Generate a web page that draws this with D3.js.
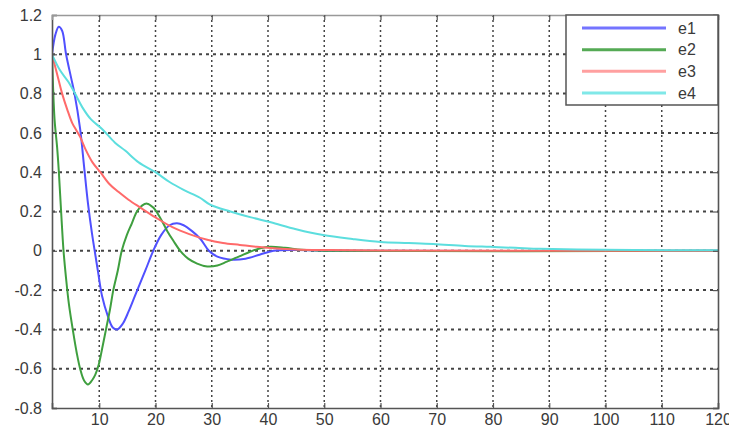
<!doctype html>
<head>
  <script src="https://d3js.org/d3.v7.min.js" charset="utf-8"></script>
</head>

<style type="text/css">
  body { margin: 0; background: #fff; }
  .tick text, .leg_label {
    font-family: 'Liberation Sans', Arial, sans-serif;
    font-size: 16px;
    fill: #3a3a3a;
  }
</style>

<body>
<svg width="729" height="431"></svg>
<script>
// data: [x, value]
var e1 = [[1.6,1.0],[2.2,1.10],[2.8,1.14],[3.4,1.12],[4.1,1.0],[5.0,0.88],[5.6,0.80],[6.6,0.62],
  [7.3,0.43],[8.0,0.24],[8.7,0.09],[9.3,-0.02],[9.8,-0.11],[10.5,-0.23],[11.5,-0.33],[12.4,-0.39],
  [13.2,-0.40],[14.2,-0.37],[15.2,-0.31],[16.2,-0.24],[17.2,-0.17],[18.2,-0.10],[19.6,0.0],
  [21,0.08],[22.5,0.13],[23.8,0.14],[25,0.13],[26.5,0.10],[28,0.06],[29.5,0.0],[31,-0.03],
  [33.5,-0.045],[36,-0.04],[38.5,-0.02],[41,0.0],[45,0.004],[50,0.0],[120,0.0]];

var e2 = [[1.6,1.0],[2.05,0.67],[2.5,0.53],[2.8,0.41],[3.2,0.21],[3.65,0.0],[4.1,-0.14],[4.6,-0.27],
  [5.4,-0.42],[6.0,-0.52],[6.6,-0.60],[7.3,-0.66],[8.0,-0.68],[8.7,-0.66],[9.3,-0.63],[9.9,-0.58],
  [10.5,-0.50],[11.2,-0.40],[11.9,-0.30],[12.5,-0.20],[13.3,-0.10],[14.0,0.0],[14.9,0.08],
  [15.8,0.14],[16.7,0.2],[17.6,0.23],[18.5,0.24],[19.6,0.22],[20.8,0.17],[22.1,0.10],[23.2,0.05],
  [24.4,0.0],[25.8,-0.04],[27.4,-0.065],[29.2,-0.08],[31,-0.075],[32.7,-0.055],[34.8,-0.03],
  [36.8,-0.005],[38.5,0.012],[40.4,0.02],[43,0.015],[46,0.005],[50,0.0],[120,0.0]];

var e3 = [[1.6,1.0],[2.5,0.9],[3.4,0.8],[4.3,0.72],[5.2,0.65],[6.0,0.61],[6.6,0.58],[7.5,0.52],
  [8.8,0.45],[10.2,0.40],[11.8,0.34],[13.4,0.30],[15.2,0.26],[17.3,0.22],[20,0.17],[23,0.12],
  [26,0.085],[29.2,0.056],[32,0.04],[35,0.03],[38,0.02],[41,0.013],[45,0.007],[50,0.004],
  [60,0.001],[120,0.0]];

var e4 = [[1.6,1.0],[3,0.92],[4.5,0.86],[5.7,0.80],[7,0.73],[8.5,0.67],[10.5,0.62],[12.8,0.55],
  [14.6,0.51],[17,0.45],[20,0.40],[22.5,0.35],[25,0.31],[27.9,0.27],[29.7,0.235],[33.3,0.20],
  [37,0.17],[40.5,0.145],[45,0.11],[49.8,0.08],[55,0.06],[60,0.045],[65,0.04],[69.4,0.035],
  [75,0.025],[79.5,0.02],[84,0.015],[88.4,0.01],[95,0.006],[105,0.004],[120,0.003]];

var seriesNames = ["e1", "e2", "e3", "e4"];
var seriesColors = ["#5050ff", "#3f9f3f", "#ff6a6a", "#5cdede"];
var legendColors = ["#7474ff", "#55aa55", "#ffa0a0", "#80e8e8"];
var xTicks = [10, 20, 30, 40, 50, 60, 70, 80, 90, 100, 110, 120];
var yTicks = [-0.8, -0.6, -0.4, -0.2, 0, 0.2, 0.4, 0.6, 0.8, 1, 1.2];

var svg = d3.select("svg");
// plot box (window.top is reserved, hence the p_ names)
var p_left = 52, p_right = 718, p_top = 15, p_bottom = 408;

var x = d3.scaleLinear().domain([1.6, 120]).range([p_left, p_right]);
var y = d3.scaleLinear().domain([-0.8, 1.2]).range([p_bottom, p_top]);

svg.append("defs").append("clipPath").attr("id", "plotclip")
  .append("rect")
  .attr("x", p_left).attr("y", p_top)
  .attr("width", p_right - p_left).attr("height", p_bottom - p_top);

// grid
var grid = svg.append("g").classed("grid", true);
grid.selectAll("line.vg")
  .data(xTicks.slice(0, -1))
  .enter().append("line").classed("vg", true)
  .attr("x1", function(d){ return x(d); }).attr("x2", function(d){ return x(d); })
  .attr("y1", p_top).attr("y2", p_bottom)
  .style("stroke", "#444").style("stroke-width", 1.5)
  .style("stroke-dasharray", "2,3");

grid.selectAll("line.hg")
  .data(yTicks.slice(1, -1))
  .enter().append("line").classed("hg", true)
  .attr("x1", p_left).attr("x2", p_right)
  .attr("y1", function(d){ return y(d); }).attr("y2", function(d){ return y(d); })
  .style("stroke", "#444").style("stroke-width", 2)
  .style("stroke-dasharray", "3,4");

// curves
var line = d3.line()
  .x(function(d){ return x(d[0]); })
  .y(function(d){ return y(d[1]); })
  .curve(d3.curveCatmullRom.alpha(0.5));

var allSeries = [e1, e2, e3, e4];
svg.append("g").attr("clip-path", "url(#plotclip)")
  .selectAll("path")
  .data(allSeries)
  .enter().append("path")
  .attr("d", line)
  .style("fill", "none")
  .style("stroke", function(d, i){ return seriesColors[i]; })
  .style("stroke-width", 2);

// axes
var fmt = function(d){ return String(Math.round(d * 10) / 10); };

var xAxis = svg.append("g")
  .attr("transform", "translate(0," + p_bottom + ")")
  .call(d3.axisBottom(x).tickValues(xTicks).tickSize(-5).tickPadding(6));

var yAxis = svg.append("g")
  .attr("transform", "translate(" + p_left + ",0)")
  .call(d3.axisLeft(y).tickValues(yTicks).tickSize(-5).tickPadding(10).tickFormat(fmt));

var topAxis = svg.append("g")
  .attr("transform", "translate(0," + p_top + ")")
  .call(d3.axisTop(x).tickValues(xTicks).tickSize(-5).tickFormat(""));

var rightAxis = svg.append("g")
  .attr("transform", "translate(" + p_right + ",0)")
  .call(d3.axisRight(y).tickValues(yTicks).tickSize(-5).tickFormat(""));

[xAxis, yAxis, topAxis, rightAxis].forEach(function(a){
  a.selectAll(".domain").style("stroke", "#555").style("stroke-width", 1.6);
  a.selectAll(".tick line").style("stroke", "#555").style("stroke-width", 1.2);
});
topAxis.select(".domain").style("stroke", "#999");

// legend
var leg = svg.append("g").classed("legend", true);
leg.append("rect")
  .attr("x", 566).attr("y", p_top)
  .attr("width", p_right - 566).attr("height", 90)
  .style("fill", "#fff").style("stroke", "#555").style("stroke-width", 1.5);

var rowY = d3.scalePoint().domain(seriesNames).range([28, 93]);

leg.selectAll("line.leg")
  .data(seriesNames)
  .enter().append("line").classed("leg", true)
  .attr("x1", 582).attr("x2", 666)
  .attr("y1", function(d){ return rowY(d); }).attr("y2", function(d){ return rowY(d); })
  .style("stroke", function(d, i){ return legendColors[i]; })
  .style("stroke-width", 3);

leg.selectAll("text")
  .data(seriesNames)
  .enter().append("text").classed("leg_label", true)
  .attr("x", 678)
  .attr("y", function(d){ return rowY(d); })
  .attr("dy", "0.35em")
  .text(function(d){ return d; });
</script>
</body>
